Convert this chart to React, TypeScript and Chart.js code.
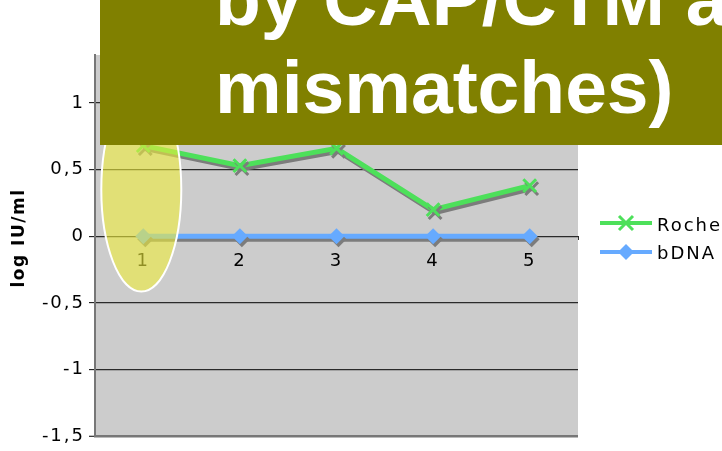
import React, { useEffect, useRef } from 'react';
import { Chart, registerables } from 'chart.js';

Chart.register(...registerables);

const categories = ['1', '2', '3', '4', '5'];
const rocheValues = [0.68, 0.53, 0.66, 0.2, 0.38];
const bdnaValues = [0, 0, 0, 0, 0];
const yTickValues = [-1.5, -1, -0.5, 0, 0.5, 1];
const seriesNames = ['Roche', 'bDNA'];
const titleLines = ['by CAP/CTM a', 'mismatches)'];
const yAxisTitle = 'log IU/ml';

const GREEN = '#4de05a';
const BLUE = '#66aaff';

const bgPlugin = {
  id: 'bg',
  beforeDraw(chart: any) {
    const { ctx, chartArea: a } = chart;
    ctx.save();
    ctx.fillStyle = '#cccccc';
    ctx.fillRect(a.left, a.top, a.right - a.left, a.bottom - a.top);
    ctx.restore();
    ctx.letterSpacing = '2px';
  },
};

const shadowPlugin = {
  id: 'shadow',
  beforeDatasetsDraw(chart: any) {
    const ctx = chart.ctx;
    ctx.save();
    ctx.shadowColor = '#7c7c7c';
    ctx.shadowOffsetX = 2;
    ctx.shadowOffsetY = 3;
    ctx.shadowBlur = 0;
  },
  afterDatasetsDraw(chart: any) {
    chart.ctx.restore();
  },
};

const ellipsePlugin = {
  id: 'ellipse',
  afterDatasetsDraw(chart: any) {
    const { ctx, scales } = chart;
    const cx = scales.x.getPixelForValue(0) - 2;
    const cy = scales.y.getPixelForValue(0.35);
    ctx.save();
    ctx.beginPath();
    ctx.ellipse(cx, cy, 40, 102, 0, 0, Math.PI * 2);
    ctx.fillStyle = 'rgba(238,236,60,0.6)';
    ctx.fill();
    ctx.lineWidth = 2;
    ctx.strokeStyle = '#ffffff';
    ctx.stroke();
    ctx.restore();
  },
};

const overlayPlugin = {
  id: 'overlay',
  afterDraw(chart: any) {
    const ctx = chart.ctx;
    ctx.save();
    // legend
    const items = [
      { name: seriesNames[0], color: GREEN, y: 223, type: 'x', ty: 231 },
      { name: seriesNames[1], color: BLUE, y: 252, type: 'd', ty: 259 },
    ];
    ctx.letterSpacing = '2px';
    items.forEach((it) => {
      ctx.strokeStyle = it.color;
      ctx.lineWidth = 4;
      ctx.beginPath();
      ctx.moveTo(600, it.y);
      ctx.lineTo(652, it.y);
      ctx.stroke();
      const mx = 626;
      if (it.type === 'x') {
        ctx.lineWidth = 3;
        ctx.beginPath();
        ctx.moveTo(mx - 7, it.y - 7);
        ctx.lineTo(mx + 7, it.y + 7);
        ctx.moveTo(mx + 7, it.y - 7);
        ctx.lineTo(mx - 7, it.y + 7);
        ctx.stroke();
      } else {
        ctx.fillStyle = it.color;
        ctx.beginPath();
        ctx.moveTo(mx - 8, it.y);
        ctx.lineTo(mx, it.y - 8);
        ctx.lineTo(mx + 8, it.y);
        ctx.lineTo(mx, it.y + 8);
        ctx.closePath();
        ctx.fill();
      }
      ctx.fillStyle = '#000';
      ctx.font = '18px "DejaVu Sans"';
      ctx.textAlign = 'left';
      ctx.textBaseline = 'alphabetic';
      ctx.fillText(it.name, 657, it.ty);
    });
    // y axis title
    ctx.save();
    ctx.translate(24, 238);
    ctx.rotate(-Math.PI / 2);
    ctx.font = 'bold 17px "DejaVu Sans"';
    ctx.letterSpacing = '1.5px';
    ctx.textAlign = 'center';
    ctx.textBaseline = 'alphabetic';
    ctx.fillStyle = '#000';
    ctx.fillText(yAxisTitle, 0, 0);
    ctx.restore();
    // olive title box
    ctx.fillStyle = '#808000';
    ctx.fillRect(100, 0, 622, 145);
    ctx.fillStyle = '#ffffff';
    ctx.letterSpacing = '0px';
    ctx.font = 'bold 75px "Liberation Sans"';
    ctx.textAlign = 'left';
    ctx.textBaseline = 'alphabetic';
    ctx.fillText(titleLines[0], 215, 25);
    ctx.fillText(titleLines[1], 215, 113);
    ctx.restore();
  },
};

export default function App() {
  const ref = useRef<HTMLCanvasElement>(null);
  useEffect(() => {
    if (!ref.current) return;
    const chart = new Chart(ref.current, {
      type: 'line',
      data: {
        labels: categories,
        datasets: [
          {
            label: seriesNames[0],
            data: rocheValues,
            borderColor: GREEN,
            backgroundColor: GREEN,
            borderWidth: 5,
            pointStyle: 'crossRot',
            pointRadius: 9,
            pointBorderWidth: 3,
            pointBorderColor: GREEN,
            tension: 0,
          },
          {
            label: seriesNames[1],
            data: bdnaValues,
            borderColor: BLUE,
            backgroundColor: BLUE,
            borderWidth: 5,
            pointStyle: 'rectRot',
            pointRadius: 8,
            pointBorderWidth: 0,
            pointBackgroundColor: BLUE,
            tension: 0,
          },
        ],
      },
      options: {
        responsive: false,
        animation: false,
        layout: { padding: { left: 0, top: 55, right: 144, bottom: 13 } },
        plugins: { legend: { display: false }, tooltip: { enabled: false } },
        scales: {
          x: {
            type: 'category',
            offset: true,
            position: { y: 0 } as any,
            grid: {
              offset: true,
              drawOnChartArea: false,
              drawTicks: true,
              tickLength: 4,
              color: '#333',
            },
            border: { display: false },
            ticks: {
              color: '#000',
              font: { family: 'DejaVu Sans', size: 18 },
              padding: 10,
              maxRotation: 0,
              autoSkip: false,
            },
          },
          y: {
            min: -1.5,
            max: 1.36,
            afterFit(scale: any) {
              scale.width = 95;
            },
            afterBuildTicks(scale: any) {
              scale.ticks = yTickValues.map((v) => ({ value: v }));
            },
            ticks: {
              stepSize: 0.5,
              includeBounds: false,
              color: '#000',
              font: { family: 'DejaVu Sans', size: 18 },
              padding: 4,
              callback: (v: any) => String(v).replace('.', ','),
            },
            grid: {
              color: (c: any) => (c.tick && c.tick.value === -1.5 ? '#777' : '#2a2a2a'),
              lineWidth: (c: any) => (c.tick && c.tick.value === -1.5 ? 2.5 : 1.3),
              tickColor: '#000',
              tickWidth: 1,
              tickLength: 6,
            },
            border: { display: true, color: '#777', width: 2 },
          },
        },
      },
      plugins: [bgPlugin, shadowPlugin, ellipsePlugin, overlayPlugin],
    });
    return () => chart.destroy();
  }, []);
  return (
    <div style={{ position: 'fixed', left: 0, top: 0, width: 722, height: 451 }}>
      <canvas ref={ref} width={722} height={451} />
    </div>
  );
}
